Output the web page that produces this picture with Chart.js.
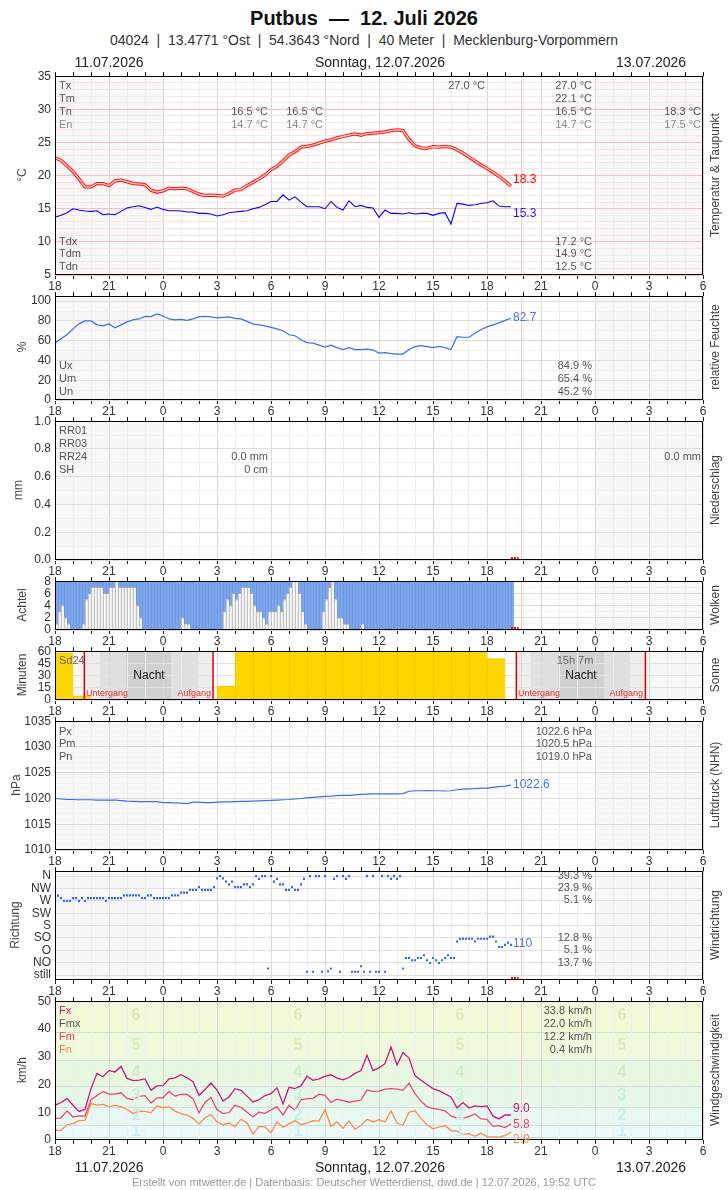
<!DOCTYPE html>
<html lang="de">
<head>
<meta charset="utf-8">
<title>Putbus — 12. Juli 2026</title>
<script src="https://cdn.jsdelivr.net/npm/chart.js@4.4.1/dist/chart.umd.min.js"></script>
<style>
  html, body { margin: 0; padding: 0; background: #fff; }
  body { width: 728px; height: 1190px; position: relative; overflow: hidden;
         font-family: "Liberation Sans", Arial, sans-serif; color: #222; }
  canvas { position: absolute; left: 0; }
  .t { position: absolute; white-space: nowrap; line-height: 1; font-size: 11px; color: #555;
       z-index: 5; transform: translateY(-50%); }
  .t.r { transform: translate(-100%, -50%); }
  .t.c { transform: translate(-50%, -50%); }
  .rot { position: absolute; white-space: nowrap; line-height: 1; font-size: 12px; color: #444;
         z-index: 5; transform: translate(-50%, -50%) rotate(-90deg); }
</style>
</head>
<body>
<script>
// Zeitachse: Stunden ab 11.07.2026 18:00 UTC (0 ... 36)
const hourTicks = [18, 21, 0, 3, 6, 9, 12, 15, 18, 21, 0, 3, 6];
const dayBounds = [6, 30];          // Mitternacht 12.07. / 13.07.
const nowHour = 25.87;              // 19:52 UTC
const step20 = 1 / 3;               // 20-Minuten-Werte
const step10 = 1 / 6;               // 10-Minuten-Werte

// Temperatur und Taupunkt in °C (20 min)
const temp = [22.7,22.3,21.5,20.6,19.5,18.3,18.3,18.8,18.8,18.5,
  19.2,19.3,19.1,18.8,18.75,18.6,17.8,17.5,17.7,18.1,
  18.0,18.1,18.0,17.6,17.2,17.0,17.05,17.0,16.9,17.3,
  17.8,17.9,18.5,19.0,19.5,20.1,20.9,21.4,22.2,23.1,
  23.6,24.3,24.4,24.6,24.9,25.2,25.4,25.7,25.9,26.1,
  26.3,26.1,26.35,26.4,26.5,26.6,26.8,26.9,26.8,25.5,
  24.5,24.2,24.1,24.35,24.3,24.4,24.3,23.9,23.4,22.8,
  22.2,21.6,21.1,20.5,19.9,19.2,18.4];
const dew = [13.7,14.0,14.4,15.0,14.8,14.65,14.6,14.7,14.1,14.2,
  14.1,14.6,15.1,15.3,15.45,15.2,14.9,15.25,14.9,14.7,
  14.7,14.65,14.5,14.5,14.3,14.3,14.2,13.9,14.1,14.4,
  14.5,14.6,14.7,15.0,15.2,15.6,16.1,16.1,17.1,16.3,
  16.8,16.0,15.3,15.3,15.3,15.0,16.1,15.2,14.8,16.2,
  15.3,15.5,15.2,15.1,13.7,14.8,14.3,14.3,14.2,14.4,
  14.2,14.3,14.3,14.0,14.3,14.4,12.7,15.8,15.7,15.5,
  15.6,15.8,15.9,16.2,15.4,15.3,15.3];

// relative Feuchte in % (20 min)
const hum = [57.7,62,66,72,77,80,80,76,75,77,
  73,76,79,81,82,84.5,84.3,87,85,82,
  81,81.5,80.5,82,84,84.5,84,83,83.5,84,
  82.5,82,79.5,77,76,75,73.5,72,70,66,
  65,61,58,57.5,55.5,53.5,55.5,53,51,53,
  51,51,51.5,50.5,47.5,48,47,46.5,46.5,51,
  54,55,54,53,54.3,53,51,64,63.5,63.5,
  67.5,71,74,76,78,80.5,82.7];

// Luftdruck in hPa (20 min)
const pres = [1020.0,1019.9,1019.8,1019.8,1019.75,1019.75,1019.75,1019.7,1019.7,1019.7,
  1019.7,1019.6,1019.5,1019.45,1019.4,1019.4,1019.4,1019.4,1019.2,1019.2,
  1019.15,1019.1,1019.0,1019.3,1019.3,1019.2,1019.2,1019.3,1019.35,1019.35,
  1019.4,1019.45,1019.45,1019.5,1019.55,1019.6,1019.65,1019.7,1019.75,1019.8,
  1019.9,1020.0,1020.1,1020.2,1020.3,1020.4,1020.45,1020.55,1020.6,1020.6,
  1020.7,1020.8,1020.85,1020.9,1020.9,1020.9,1020.9,1020.9,1020.95,1021.4,
  1021.5,1021.5,1021.55,1021.5,1021.5,1021.45,1021.5,1021.7,1021.8,1021.85,
  1021.9,1022.0,1022.0,1022.15,1022.3,1022.4,1022.6];

// Wind in km/h (20 min): Böen, Mittel, Minimum
const gust = [12.5,13.5,14.9,12.5,10.3,11.0,18.5,24.0,22.8,25.0,
  24.5,26.5,22.2,21.4,21.6,22.0,17.9,19.5,19.6,22.0,
  22.4,23.5,22.4,21.0,16.1,18.2,20.5,18.0,14.0,15.5,
  18.5,17.9,15.8,13.7,14.5,16.0,16.7,18.8,13.0,19.0,
  18.5,19.5,23.0,21.5,22.0,22.9,23.5,22.3,21.7,22.5,
  24.0,25.0,30.5,25.0,26.0,27.5,33.5,27.0,31.5,29.5,
  23.2,21.5,20.0,18.5,17.8,16.6,15.5,11.5,13.5,11.5,
  12.3,12.0,12.3,8.6,7.6,9.0,9.0];
const windMean = [7.7,8.0,10.5,8.3,8.7,8.6,14.5,16.0,17.5,16.5,
  16.5,17.0,15.0,14.5,15.7,16.0,13.3,15.2,15.2,17.5,
  15.8,16.4,16.4,14.9,9.8,13.5,15.3,11.0,9.5,9.9,
  12.5,11.8,10.0,8.3,10.0,9.6,10.8,12.0,9.0,12.5,
  10.7,14.5,14.9,15.0,16.5,16.1,13.5,14.7,14.2,13.6,
  14.0,14.4,18.0,17.5,17.6,18.3,18.5,18.3,17.9,20.5,
  16.7,14.0,12.0,11.4,11.0,10.5,8.6,8.0,7.7,8.5,
  9.4,7.6,7.4,4.9,5.2,4.5,5.8];
const windMin = [3.6,3.4,5.5,5.9,7.0,7.1,13.1,12.6,12.8,12.0,
  12.5,12.0,11.0,9.5,10.4,10.3,9.8,12.3,11.7,11.9,
  10.4,9.5,9.0,7.8,5.7,8.0,9.2,6.5,5.5,6.1,
  4.8,7.5,6.1,2.1,4.9,4.7,2.6,6.5,4.6,5.8,
  7.0,5.5,6.1,7.0,6.8,11.0,4.9,6.5,4.2,6.8,
  3.8,5.3,7.5,6.5,7.3,6.5,10.5,6.1,5.3,10.0,
  10.5,7.7,5.5,4.0,4.6,5.2,3.4,3.2,2.0,2.3,
  1.3,2.5,1.2,1.1,1.0,1.6,2.9];

// Bewölkung in Achteln (10 min)
const clouds = [1,3,4,2,1,0,0,0,0,1,
  5,6,7,7,7,7,6,6,7,7,
  8,7,7,7,7,7,7,4,2,0,
  0,0,0,0,0,0,0,0,0,0,
  0,0,2,1,1,0,0,0,0,0,
  0,0,0,0,0,0,3,5,4,6,
  5,6,7,7,7,6,4,3,3,2,
  1,3,3,3,4,3,5,6,7,8,
  8,6,3,1,0,0,0,0,0,3,
  5,7,8,5,2,2,1,1,0,0,
  0,0,1,0,0,0,0,0,0,0,
  0,0,0,0,0,0,0,0,0,0,
  0,0,0,0,0,0,0,0,0,0,
  0,0,0,0,0,0,0,0,0,0,
  0,0,0,0,0,0,0,0,0,0,
  0,0,0];

// Windrichtung in Grad (10 min), kleine Werte = still
const wdir = [298,289,280,270,270,270,280,280,270,280,
  270,280,280,280,280,280,280,270,280,280,
  280,280,280,290,290,290,290,290,290,280,
  280,290,290,280,280,280,280,280,280,290,
  290,290,300,300,300,310,310,310,320,310,
  310,310,310,320,352,360,352,340,330,340,
  320,320,320,330,330,320,330,360,350,360,
  360,24,360,340,350,330,330,310,310,320,
  310,310,330,350,12,360,12,360,360,12,
  360,14,24,350,360,12,360,350,360,12,
  12,12,32,12,360,12,360,12,12,360,
  12,360,350,360,350,360,24,62,62,54,
  54,62,62,72,54,44,62,54,44,54,
  62,72,62,62,122,132,132,132,132,132,
  122,132,132,132,132,140,140,122,102,102,
  110,118,110];

// Sonnenscheindauer in Minuten je Stunde
const sunMin = [58,5,0,0,0,0,0,0,0,17,60,60,60,60,60,60,60,60,60,60,60,60,60,60,51];
const sunSet = [1.63, 25.63];
const sunRise = [8.78, 32.8];
const twilight = [[2.5, 3.94, 6.44, 7.96], [26.43, 27.96, 30.5, 31.93]];

// Achsenbeschriftungen
const tempTicks = [5, 10, 15, 20, 25, 30, 35];
const humTicks = [0, 20, 40, 60, 80, 100];
const rainTicks = ['0.0', '0.2', '0.4', '0.6', '0.8', '1.0'];
const cloudTicks = [0, 2, 4, 6, 8];
const sunTicks = [0, 15, 30, 45, 60];
const presTicks = [1010, 1015, 1020, 1025, 1030, 1035];
const dirLabels = ['still', 'NO', 'O', 'SO', 'S', 'SW', 'W', 'NW', 'N'];
const windTicks = [0, 10, 20, 30, 40, 50];
const bftBounds = [0, 1, 5.5, 12, 19.5, 28.8, 38.8, 50];

Chart.defaults.font.family = '"Liberation Sans", Arial, sans-serif';

const W = 728, PL = 55, PR = 703, PAD_T = 10, AX_H = 22;

function range(a, b, s) {
  const r = [];
  for (let v = a; v <= b + 1e-9; v += s) r.push(+v.toFixed(4));
  return r;
}
const pts = (arr, step) => arr.map((v, i) => ({ x: i * step, y: v }));

function label(x, y, text, align, style) {
  const d = document.createElement('div');
  d.className = 't' + (align === 'r' ? ' r' : align === 'c' ? ' c' : '');
  d.style.left = x + 'px';
  d.style.top = y + 'px';
  d.textContent = text;
  if (style) Object.assign(d.style, style);
  document.body.appendChild(d);
  return d;
}
function rotLabel(x, y, text) {
  const d = document.createElement('div');
  d.className = 'rot';
  d.style.left = x + 'px';
  d.style.top = y + 'px';
  d.textContent = text;
  document.body.appendChild(d);
}

function framePlugin(extra) {
  return {
    id: 'frame',
    beforeDraw(chart) {
      const { ctx, chartArea: a, scales: { x } } = chart;
      ctx.save();
      ctx.fillStyle = '#f7f7f7';
      [[0, dayBounds[0]], [dayBounds[1], 36]].forEach(([t0, t1]) => {
        const x0 = x.getPixelForValue(t0), x1 = x.getPixelForValue(t1);
        ctx.fillRect(x0, a.top, x1 - x0, a.bottom - a.top);
      });
      if (extra.bg) extra.bg(chart, ctx, a, x, chart.scales.y);
      ctx.restore();
    },
    beforeDatasetsDraw(chart) {
      const { ctx, chartArea: a, scales: { x } } = chart;
      const px = Math.round(x.getPixelForValue(nowHour)) + 0.5;
      ctx.save();
      ctx.strokeStyle = '#ffc8c8';
      ctx.lineWidth = 1;
      ctx.beginPath();
      ctx.moveTo(px, a.top);
      ctx.lineTo(px, a.bottom);
      ctx.stroke();
      ctx.restore();
    },
    afterDraw(chart) {
      const { ctx, chartArea: a, scales: { x } } = chart;
      ctx.save();
      if (extra.fg) extra.fg(chart, ctx, a, x, chart.scales.y);
      if (extra.mark) {
        // rote Markierung: keine Daten seit letztem Wert
        ctx.strokeStyle = '#ff0000';
        ctx.lineWidth = 2;
        ctx.setLineDash([2, 1]);
        ctx.beginPath();
        ctx.moveTo(x.getPixelForValue(25.33), a.bottom - 2);
        ctx.lineTo(x.getPixelForValue(nowHour) - 2, a.bottom - 2);
        ctx.stroke();
        ctx.setLineDash([]);
      }
      ctx.strokeStyle = '#000';
      ctx.lineWidth = 1;
      ctx.strokeRect(Math.round(a.left) + 0.5, Math.round(a.top) + 0.5,
        Math.round(a.right - a.left) - 1, Math.round(a.bottom - a.top) - 1);
      ctx.beginPath();
      for (let h = 0; h <= 36; h++) {
        const px = Math.round(x.getPixelForValue(h)) + 0.5;
        ctx.moveTo(px, a.top);
        ctx.lineTo(px, a.top - 4);
      }
      ctx.stroke();
      ctx.restore();
    }
  };
}

function panel(top, h, y, datasets, extra = {}) {
  const cv = document.createElement('canvas');
  const H = h + PAD_T + AX_H;
  cv.width = W;
  cv.height = H;
  cv.style.top = (top - PAD_T) + 'px';
  cv.style.width = W + 'px';
  cv.style.height = H + 'px';
  document.body.appendChild(cv);
  return new Chart(cv, {
    type: 'line',
    data: { datasets },
    options: {
      responsive: false,
      animation: false,
      devicePixelRatio: 1,
      layout: { padding: { left: 0, right: W - PR, top: PAD_T, bottom: 0 } },
      plugins: { legend: { display: false }, tooltip: { enabled: false } },
      elements: { line: { tension: 0 }, point: { radius: 0 } },
      scales: {
        x: {
          type: 'linear', min: 0, max: 36, offset: false,
          afterBuildTicks: s => { s.ticks = range(0, 36, 1).map(v => ({ value: v })); },
          afterFit: s => { s.height = AX_H; },
          ticks: {
            autoSkip: false, maxRotation: 0, padding: 0, color: '#333', font: { size: 12 },
            callback: v => (v % 3 === 0 ? String(hourTicks[v / 3]) : '')
          },
          grid: {
            offset: false, tickLength: 4, tickColor: '#222',
            color: c => (c.tick && c.tick.value % 3 === 0 ? '#d9d9d9' : '#eeeeee')
          },
          border: { display: false }
        },
        y: {
          type: 'linear', min: y.min, max: y.max,
          afterBuildTicks: s => { s.ticks = y.ticks.map(v => ({ value: v })); },
          afterFit: s => { s.width = PL; },
          ticks: { autoSkip: false, padding: 4, color: '#333', font: { size: 12 }, callback: y.label },
          grid: { drawTicks: false, display: y.grid !== null, color: y.grid || '#ddd' },
          border: { display: false }
        }
      }
    },
    plugins: [framePlugin(extra)]
  });
}

// ---------- Kopf ----------
label(364, 18, 'Putbus\u00a0 —\u00a0 12. Juli 2026', 'c', { fontSize: '20px', fontWeight: 'bold', color: '#111' });
label(364, 40, '04024  |  13.4771 °Ost  |  54.3643 °Nord  |  40 Meter  |  Mecklenburg-Vorpommern', 'c',
  { fontSize: '14px', color: '#333', whiteSpace: 'pre' });
[[109, '11.07.2026'], [380, 'Sonntag, 12.07.2026'], [651, '13.07.2026']].forEach(([x, s]) => {
  label(x, 62, s, 'c', { fontSize: '14px', color: '#222' });
  label(x, 1167, s, 'c', { fontSize: '14px', color: '#222' });
});
label(364, 1182, 'Erstellt von mtwetter.de | Datenbasis: Deutscher Wetterdienst, dwd.de | 12.07.2026, 19:52 UTC', 'c',
  { fontSize: '11px', color: '#999' });

// ---------- Temperatur & Taupunkt ----------
const tPts = pts(temp, step20);
panel(75, 200, {
  min: 5, max: 35, ticks: range(5, 35, 1),
  label: v => (tempTicks.includes(v) ? String(v) : ''),
  grid: c => (c.tick && c.tick.value % 5 === 0 ? '#ffbcbc' : '#ffe3e3')
}, [
  { data: tPts, borderColor: '#ffd2d2', borderWidth: 1.3 },
  { data: tPts, borderColor: '#ff1010', borderWidth: 3.3 },
  { data: pts(dew, step20), borderColor: '#0000ff', borderWidth: 1.1 }
]);

// ---------- relative Feuchte ----------
panel(295, 105, {
  min: 0, max: 105, ticks: range(0, 100, 10),
  label: v => (humTicks.includes(v) ? String(v) : ''),
  grid: c => (c.tick && c.tick.value % 20 === 0 ? '#dcdcdc' : '#f0f0f0')
}, [
  { data: pts(hum, step20), borderColor: '#3f6fe6', borderWidth: 1.2 }
]);

// ---------- Niederschlag ----------
panel(420, 140, {
  min: 0, max: 1, ticks: range(0, 1, 0.1),
  label: v => (Math.round(v * 10) % 2 === 0 ? rainTicks[Math.round(v * 5)] : ''),
  grid: c => (c.tick && Math.round(c.tick.value * 10) % 2 === 0 ? '#dcdcdc' : '#f0f0f0')
}, [{ data: [] }], { mark: true });

// ---------- Wolken ----------
panel(580, 50, {
  min: 0, max: 8, ticks: range(0, 8, 1),
  label: v => (cloudTicks.includes(v) ? String(v) : ''),
  grid: c => (c.tick && c.tick.value % 2 === 0 ? '#dcdcdc' : '#f0f0f0')
}, [
  { type: 'bar', grouped: false, barPercentage: 1, categoryPercentage: 1,
    data: clouds.map((v, i) => ({ x: (i + 0.5) * step10, y: v })),
    backgroundColor: '#f6f6f6', borderColor: '#a8a8a8', borderSkipped: false,
    borderWidth: { left: 1, top: 1, right: 0, bottom: 0 } },
  { type: 'bar', grouped: false, barPercentage: 1, categoryPercentage: 1,
    data: clouds.map((v, i) => ({ x: (i + 0.5) * step10, y: [v, 8] })),
    backgroundColor: '#7fa7ec', borderColor: '#6690dc', borderSkipped: false,
    borderWidth: { left: 1, top: 0, right: 0, bottom: 0 } }
], { mark: true });

// ---------- Sonne ----------
panel(650, 50, {
  min: 0, max: 60, ticks: sunTicks,
  label: v => String(v),
  grid: '#e2e2e2'
}, [
  { type: 'bar', grouped: false, barPercentage: 1, categoryPercentage: 1,
    data: sunMin.map((v, i) => ({ x: i + 0.5, y: v })),
    backgroundColor: '#ffd700', borderColor: '#f2c200', borderSkipped: 'bottom',
    borderWidth: { left: 1, top: 1, right: 0, bottom: 0 } }
], {
  bg(chart, ctx, a, x) {
    const fill = (t0, t1, c) => {
      const x0 = x.getPixelForValue(t0), x1 = x.getPixelForValue(t1);
      ctx.fillStyle = c;
      ctx.fillRect(x0, a.top, x1 - x0, a.bottom - a.top);
    };
    sunSet.forEach((s, k) => {
      const tw = twilight[k];
      fill(s, sunRise[k], '#ededed');
      fill(tw[0], tw[3], '#dfdfdf');
      fill(tw[1], tw[2], '#d0d0d0');
    });
  },
  fg(chart, ctx, a, x) {
    ctx.strokeStyle = '#e00000';
    ctx.lineWidth = 1.5;
    ctx.beginPath();
    [...sunSet, ...sunRise].forEach(t => {
      const px = x.getPixelForValue(t);
      ctx.moveTo(px, a.top);
      ctx.lineTo(px, a.bottom);
    });
    ctx.stroke();
  }
});

// ---------- Luftdruck ----------
panel(720, 130, {
  min: 1010, max: 1035, ticks: range(1010, 1035, 1),
  label: v => (presTicks.includes(v) ? String(v) : ''),
  grid: c => (c.tick && c.tick.value % 5 === 0 ? '#d9d9d9' : '#f3f3f3')
}, [
  { data: pts(pres, step20), borderColor: '#3f6fe6', borderWidth: 1.2 }
]);

// ---------- Windrichtung ----------
panel(870, 110, {
  min: -18, max: 378, ticks: range(0, 360, 45),
  label: v => dirLabels[Math.round(v / 45)],
  grid: '#e0e0e0'
}, [
  { data: pts(wdir, step10), showLine: false, pointRadius: 1.5, pointStyle: 'rect',
    pointBackgroundColor: '#3a66e8', pointBorderWidth: 0 }
], { mark: true });

// ---------- Windgeschwindigkeit ----------
const bandColors = ['#f1fbfc', '#ebf9fa', '#e7f8f3', '#e6f7ea', '#e8f7e0', '#eef8dc', '#f2f9d7'];
panel(1000, 140, {
  min: 0, max: 50, ticks: windTicks,
  label: v => String(v),
  grid: null
}, [
  { data: pts(gust, step20), borderColor: '#d0157a', borderWidth: 1.3 },
  { data: pts(windMean, step20), borderColor: '#ec4a6c', borderWidth: 1.3 },
  { data: pts(windMin, step20), borderColor: '#ff8a4c', borderWidth: 1.3 }
], {
  bg(chart, ctx, a, x, y) {
    for (let i = 0; i < bftBounds.length - 1; i++) {
      const y0 = y.getPixelForValue(bftBounds[i + 1]), y1 = y.getPixelForValue(bftBounds[i]);
      ctx.fillStyle = bandColors[i];
      ctx.fillRect(a.left, y0, a.right - a.left, y1 - y0);
    }
    ctx.strokeStyle = '#cddfd8';
    ctx.lineWidth = 1;
    ctx.beginPath();
    bftBounds.slice(1, -1).forEach(b => {
      const py = Math.round(y.getPixelForValue(b)) + 0.5;
      ctx.moveTo(a.left, py);
      ctx.lineTo(a.right, py);
    });
    ctx.stroke();
  }
});

// ---------- Beschriftungen in den Feldern ----------
const grey = { color: '#555' }, light = { color: '#8a8a8a' };
// Temperatur
[['Tx', 85], ['Tm', 98], ['Tn', 111]].forEach(([s, y]) => label(59, y, s, 'l', grey));
label(59, 124, 'En', 'l', light);
label(268, 111, '16.5 °C', 'r', grey); label(268, 124, '14.7 °C', 'r', light);
label(323, 111, '16.5 °C', 'r', grey); label(323, 124, '14.7 °C', 'r', light);
label(485, 85, '27.0 °C', 'r', grey);
label(592, 85, '27.0 °C', 'r', grey); label(592, 98, '22.1 °C', 'r', grey);
label(592, 111, '16.5 °C', 'r', grey); label(592, 124, '14.7 °C', 'r', light);
label(701, 111, '18.3 °C', 'r', grey); label(701, 124, '17.5 °C', 'r', light);
[['Tdx', 241, '17.2 °C'], ['Tdm', 253, '14.9 °C'], ['Tdn', 266, '12.5 °C']].forEach(([s, y, v]) => {
  label(59, y, s, 'l', grey);
  label(592, y, v, 'r', grey);
});
label(513, 179, '18.3', 'l', { fontSize: '12px', color: '#ff0000' });
label(513, 213, '15.3', 'l', { fontSize: '12px', color: '#1a1aff' });

// Feuchte
[['Ux', 365, '84.9 %'], ['Um', 378, '65.4 %'], ['Un', 391, '45.2 %']].forEach(([s, y, v]) => {
  label(59, y, s, 'l', grey);
  label(592, y, v, 'r', grey);
});
label(513, 317, '82.7', 'l', { fontSize: '12px', color: '#4a72e8' });

// Niederschlag
[['RR01', 430], ['RR03', 443], ['RR24', 456], ['SH', 469]].forEach(([s, y]) => label(59, y, s, 'l', grey));
label(268, 456, '0.0 mm', 'r', grey);
label(268, 469, '0 cm', 'r', grey);
label(701, 456, '0.0 mm', 'r', grey);

// Sonne
label(59, 660, 'Sd24', 'l', { color: '#666' });
label(149, 675, 'Nacht', 'c', { fontSize: '12px', color: '#111' });
label(575, 660, '15h 7m', 'c', { color: '#666' });
label(581, 675, 'Nacht', 'c', { fontSize: '12px', color: '#111' });
const red = { fontSize: '9px', color: '#e83030' };
label(86, 693, 'Untergang', 'l', red);
label(211, 693, 'Aufgang', 'r', red);
label(518, 693, 'Untergang', 'l', red);
label(643, 693, 'Aufgang', 'r', red);

// Luftdruck
[['Px', 731, '1022.6 hPa'], ['Pm', 743, '1020.5 hPa'], ['Pn', 756, '1019.0 hPa']].forEach(([s, y, v]) => {
  label(59, y, s, 'l', grey);
  label(592, y, v, 'r', grey);
});
label(513, 784, '1022.6', 'l', { fontSize: '12px', color: '#4a72e8' });

// Windrichtung
[[875, '39.3 %'], [887, '23.9 %'], [899, '5.1 %'], [937, '12.8 %'], [949, '5.1 %'], [962, '13.7 %']]
  .forEach(([y, v]) => label(592, y, v, 'r', grey));
label(513, 943, '110', 'l', { fontSize: '12px', color: '#4a72e8' });

// Windgeschwindigkeit
label(59, 1010, 'Fx', 'l', { color: '#cc1177' });
label(59, 1023, 'Fmx', 'l', grey);
label(59, 1036, 'Fm', 'l', { color: '#ee3a5e' });
label(59, 1049, 'Fn', 'l', { color: '#ff7a45' });
[[1010, '33.8 km/h'], [1023, '22.0 km/h'], [1036, '12.2 km/h'], [1049, '0.4 km/h']]
  .forEach(([y, v]) => label(592, y, v, 'r', grey));
label(513, 1108, '9.0', 'l', { fontSize: '12px', color: '#cc1177' });
label(513, 1124, '5.8', 'l', { fontSize: '12px', color: '#ee4466' });
label(513, 1139, '2.9', 'l', { fontSize: '12px', color: '#ff8844' });
const bftDigits = [[1131, '1', '#c8eff4'], [1115, '2', '#c8efe8'], [1095, '3', '#cceed8'],
  [1072, '4', '#d0edc8'], [1045, '5', '#d7ebbd'], [1015, '6', '#dceabc']];
[136, 298, 460, 622].forEach(x => bftDigits.forEach(([y, s, c]) =>
  label(x, y, s, 'c', { fontSize: '16px', fontWeight: 'bold', color: c, zIndex: 1 })));

// Achsentitel links und rechts
[[22, 175, '°C'], [22, 347, '%'], [18, 490, 'mm'], [22, 605, 'Achtel'], [22, 675, 'Minuten'],
 [16, 785, 'hPa'], [15, 925, 'Richtung'], [22, 1070, 'km/h']].forEach(([x, y, s]) => rotLabel(x, y, s));
[[715, 175, 'Temperatur & Taupunkt'], [715, 347, 'relative Feuchte'], [715, 490, 'Niederschlag'],
 [715, 605, 'Wolken'], [715, 675, 'Sonne'], [715, 785, 'Luftdruck (NHN)'], [715, 925, 'Windrichtung'],
 [715, 1070, 'Windgeschwindigkeit']].forEach(([x, y, s]) => rotLabel(x, y, s));
</script>
</body>
</html>
